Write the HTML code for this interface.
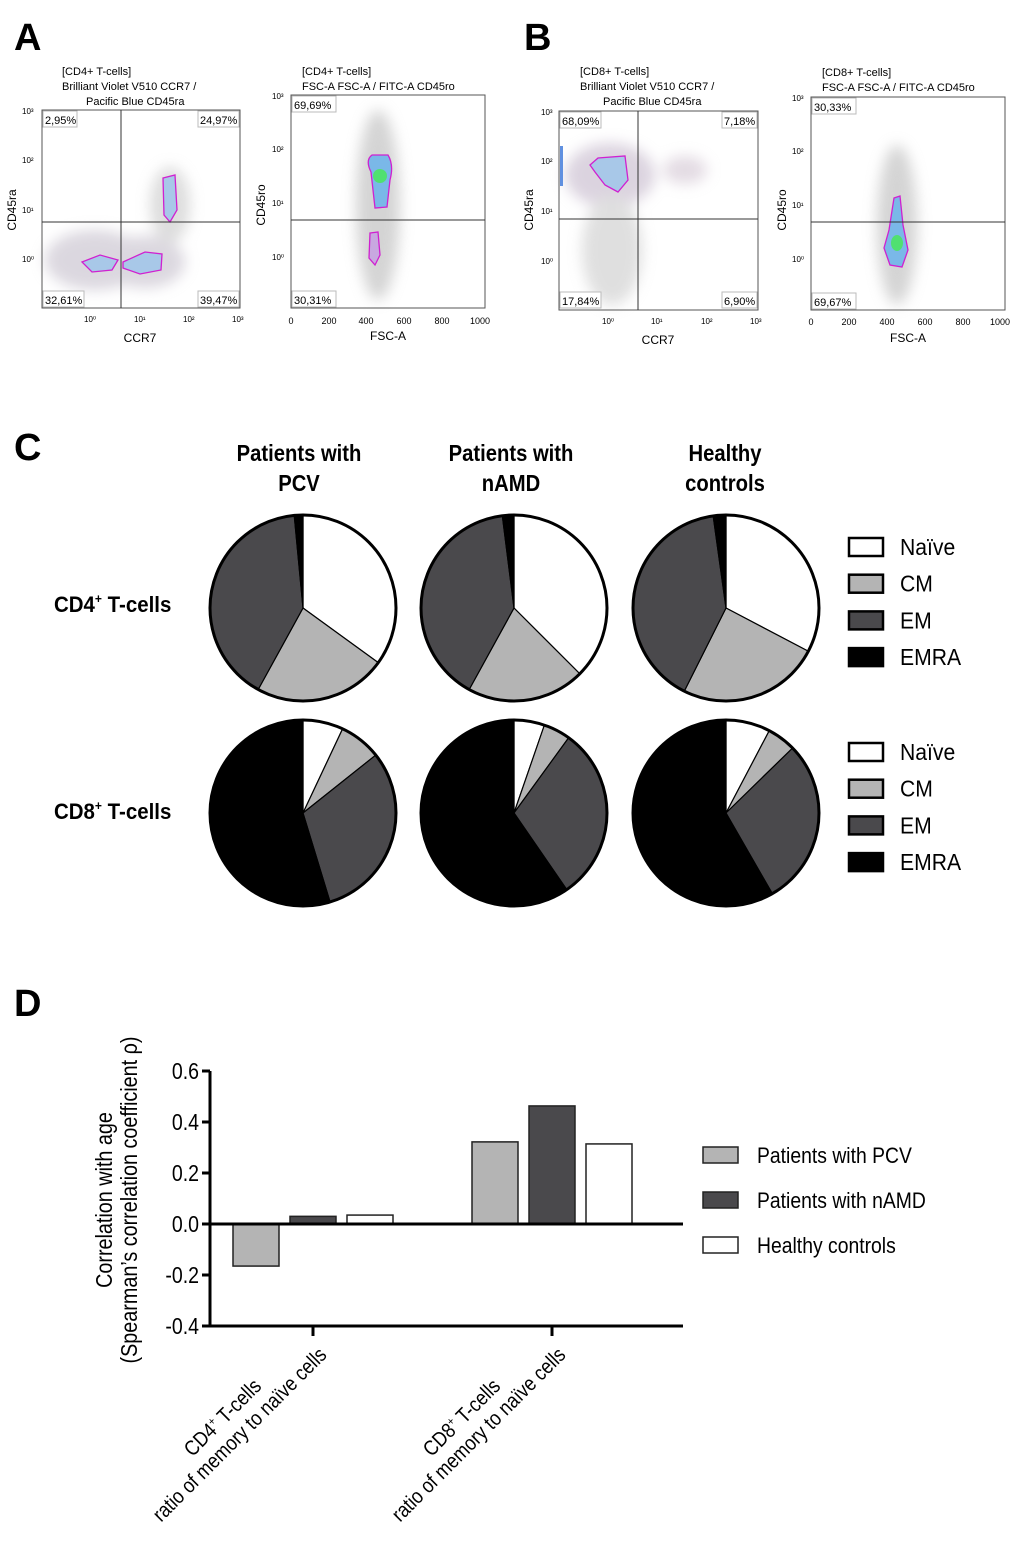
<!DOCTYPE html>
<html><head><meta charset="utf-8"><style>
html,body{margin:0;padding:0;background:#fff;}
svg{display:block;font-family:"Liberation Sans",sans-serif;}
</style></head><body>
<svg id="fig" width="1020" height="1568" viewBox="0 0 1020 1568" xmlns="http://www.w3.org/2000/svg">
<defs>
<filter id="bl" x="-50%" y="-50%" width="200%" height="200%"><feGaussianBlur stdDeviation="7"/></filter>
</defs>
<text x="14" y="50" font-size="38" font-weight="bold">A</text>
<text x="524" y="50" font-size="38" font-weight="bold">B</text>
<text x="14" y="460" font-size="38" font-weight="bold">C</text>
<text x="14" y="1016" font-size="38" font-weight="bold">D</text>

<!-- ===== Flow A1 ===== -->
<g font-size="11">
<text x="62" y="75">[CD4+ T-cells]</text>
<text x="62" y="90">Brilliant Violet V510 CCR7 /</text>
<text x="86" y="105">Pacific Blue CD45ra</text>
<g filter="url(#bl)" opacity="0.5">
<ellipse cx="95" cy="260" rx="50" ry="30" fill="#b8b0c0"/>
<ellipse cx="145" cy="262" rx="40" ry="26" fill="#b8b0c0"/>
<ellipse cx="170" cy="205" rx="20" ry="38" fill="#bbb"/>
</g>
<path d="M82 262 L100 255 L118 260 L112 270 L92 272 Z" fill="#a8c8e8" stroke="#d020d0" stroke-width="1.3"/>
<path d="M123 262 L145 252 L162 254 L161 270 L140 274 L123 268 Z" fill="#a8c8e8" stroke="#d020d0" stroke-width="1.3"/>
<path d="M163 178 L175 175 L177 210 L170 222 L164 215 Z" fill="#a8c8e8" stroke="#d020d0" stroke-width="1.3"/>
<rect x="42" y="110" width="198" height="198" fill="none" stroke="#555" stroke-width="1"/>
<line x1="121" y1="110" x2="121" y2="308" stroke="#333" stroke-width="1"/>
<line x1="42" y1="222" x2="240" y2="222" stroke="#333" stroke-width="1"/>
<rect x="43" y="111" width="34" height="16" fill="#fff" stroke="#bbb"/><text x="45" y="124">2,95%</text>
<rect x="198" y="111" width="41" height="16" fill="#fff" stroke="#bbb"/><text x="200" y="124">24,97%</text>
<rect x="43" y="291" width="41" height="16" fill="#fff" stroke="#bbb"/><text x="45" y="304">32,61%</text>
<rect x="198" y="291" width="41" height="16" fill="#fff" stroke="#bbb"/><text x="200" y="304">39,47%</text>
<g font-size="8"><text x="22" y="114">10³</text><text x="22" y="163">10²</text><text x="22" y="213">10¹</text><text x="22" y="262">10⁰</text>
<text x="84" y="322">10⁰</text><text x="134" y="322">10¹</text><text x="183" y="322">10²</text><text x="232" y="322">10³</text></g>
<text x="140" y="342" text-anchor="middle" font-size="12">CCR7</text>
<text transform="translate(16,210) rotate(-90)" text-anchor="middle" font-size="12">CD45ra</text>
</g>

<!-- ===== Flow A2 ===== -->
<g font-size="11">
<text x="302" y="75">[CD4+ T-cells]</text>
<text x="302" y="90">FSC-A FSC-A / FITC-A CD45ro</text>
<g filter="url(#bl)" opacity="0.6"><ellipse cx="378" cy="205" rx="22" ry="95" fill="#b8b8b8"/></g>
<path d="M371 172 Q365 160 372 155 L388 155 Q394 165 390 180 L387 207 L375 208 Z" fill="#7ab8e8" stroke="#d020d0" stroke-width="1.3"/>
<ellipse cx="380" cy="176" rx="7" ry="7" fill="#50e070"/>
<path d="M370 233 L378 232 L380 255 L375 265 L369 258 Z" fill="#c8a8e0" stroke="#d020d0" stroke-width="1.3"/>
<rect x="291" y="95" width="194" height="213" fill="none" stroke="#555"/>
<line x1="291" y1="220" x2="485" y2="220" stroke="#333"/>
<rect x="292" y="96" width="44" height="16" fill="#fff" stroke="#bbb"/><text x="294" y="109">69,69%</text>
<rect x="292" y="291" width="44" height="16" fill="#fff" stroke="#bbb"/><text x="294" y="304">30,31%</text>
<g font-size="8"><text x="272" y="99">10³</text><text x="272" y="152">10²</text><text x="272" y="206">10¹</text><text x="272" y="260">10⁰</text></g>
<g font-size="9" text-anchor="middle"><text x="291" y="324">0</text><text x="329" y="324">200</text><text x="366" y="324">400</text><text x="404" y="324">600</text><text x="442" y="324">800</text><text x="480" y="324">1000</text></g>
<text x="388" y="340" text-anchor="middle" font-size="12">FSC-A</text>
<text transform="translate(265,205) rotate(-90)" text-anchor="middle" font-size="12">CD45ro</text>
</g>

<!-- ===== Flow B1 ===== -->
<g font-size="11">
<text x="580" y="75">[CD8+ T-cells]</text>
<text x="580" y="90">Brilliant Violet V510 CCR7 /</text>
<text x="603" y="105">Pacific Blue CD45ra</text>
<g filter="url(#bl)" opacity="0.5"><ellipse cx="610" cy="175" rx="45" ry="32" fill="#b8a8c0"/><ellipse cx="612" cy="250" rx="30" ry="55" fill="#c0c0c0"/><ellipse cx="685" cy="170" rx="22" ry="14" fill="#c8b8c8"/></g>
<path d="M590 165 L598 158 L625 156 L628 180 L618 192 L605 185 L595 172 Z" fill="#a8c8e8" stroke="#d020d0" stroke-width="1.3"/>
<rect x="560" y="146" width="3" height="40" fill="#6090e0"/>
<rect x="559" y="111" width="199" height="199" fill="none" stroke="#555"/>
<line x1="638" y1="111" x2="638" y2="310" stroke="#333"/>
<line x1="559" y1="219" x2="758" y2="219" stroke="#333"/>
<rect x="560" y="112" width="41" height="16" fill="#fff" stroke="#bbb"/><text x="562" y="125">68,09%</text>
<rect x="722" y="112" width="35" height="16" fill="#fff" stroke="#bbb"/><text x="724" y="125">7,18%</text>
<rect x="560" y="292" width="41" height="16" fill="#fff" stroke="#bbb"/><text x="562" y="305">17,84%</text>
<rect x="722" y="292" width="35" height="16" fill="#fff" stroke="#bbb"/><text x="724" y="305">6,90%</text>
<g font-size="8"><text x="541" y="115">10³</text><text x="541" y="164">10²</text><text x="541" y="214">10¹</text><text x="541" y="264">10⁰</text>
<text x="602" y="324">10⁰</text><text x="651" y="324">10¹</text><text x="701" y="324">10²</text><text x="750" y="324">10³</text></g>
<text x="658" y="344" text-anchor="middle" font-size="12">CCR7</text>
<text transform="translate(533,210) rotate(-90)" text-anchor="middle" font-size="12">CD45ra</text>
</g>

<!-- ===== Flow B2 ===== -->
<g font-size="11">
<text x="822" y="76">[CD8+ T-cells]</text>
<text x="822" y="91">FSC-A FSC-A / FITC-A CD45ro</text>
<g filter="url(#bl)" opacity="0.6"><ellipse cx="897" cy="225" rx="20" ry="80" fill="#b8b8b8"/></g>
<path d="M894 198 L900 196 L903 225 L908 250 L902 267 L890 265 L884 248 L889 230 Z" fill="#7ab8e8" stroke="#d020d0" stroke-width="1.3"/>
<ellipse cx="897" cy="243" rx="6" ry="8" fill="#50e070"/>
<rect x="811" y="97" width="194" height="213" fill="none" stroke="#555"/>
<line x1="811" y1="222" x2="1005" y2="222" stroke="#333"/>
<rect x="812" y="98" width="44" height="16" fill="#fff" stroke="#bbb"/><text x="814" y="111">30,33%</text>
<rect x="812" y="293" width="44" height="16" fill="#fff" stroke="#bbb"/><text x="814" y="306">69,67%</text>
<g font-size="8"><text x="792" y="101">10³</text><text x="792" y="154">10²</text><text x="792" y="208">10¹</text><text x="792" y="262">10⁰</text></g>
<g font-size="9" text-anchor="middle"><text x="811" y="325">0</text><text x="849" y="325">200</text><text x="887" y="325">400</text><text x="925" y="325">600</text><text x="963" y="325">800</text><text x="1000" y="325">1000</text></g>
<text x="908" y="342" text-anchor="middle" font-size="12">FSC-A</text>
<text transform="translate(786,210) rotate(-90)" text-anchor="middle" font-size="12">CD45ro</text>
</g>

<!-- ===== Panel C headers ===== -->
<g font-size="23" font-weight="bold" text-anchor="middle">
<g transform="translate(299,461) scale(0.88,1)"><text x="0" y="0">Patients with<tspan x="0" dy="30">PCV</tspan></text></g>
<g transform="translate(511,461) scale(0.88,1)"><text x="0" y="0">Patients with<tspan x="0" dy="30">nAMD</tspan></text></g>
<g transform="translate(725,461) scale(0.88,1)"><text x="0" y="0">Healthy<tspan x="0" dy="30">controls</tspan></text></g>
</g>
<g font-size="22" font-weight="bold">
<g transform="translate(54,612) scale(0.93,1)"><text x="0" y="0">CD4<tspan font-size="13" dy="-9">+</tspan><tspan dy="9"> T-cells</tspan></text></g>
<g transform="translate(54,819) scale(0.93,1)"><text x="0" y="0">CD8<tspan font-size="13" dy="-9">+</tspan><tspan dy="9"> T-cells</tspan></text></g>
</g>
<g id="pies"></g>
<g id="pielegends"></g>
<g id="bars"></g>
</svg>
<script>
const NS="http://www.w3.org/2000/svg";
function mk(t,a,p){const e=document.createElementNS(NS,t);for(const k in a)e.setAttribute(k,a[k]);p.appendChild(e);return e;}
const SX=0.88;

// ---- Pie data (percent, clockwise from top): Naive, CM, EM, EMRA ----
const subsets=["Naïve","CM","EM","EMRA"];
const groups=["PCV","nAMD","Healthy controls"];
const cd4PCV=[35,23,40.5,1.5];
const cd4nAMD=[37.5,20.5,40,2];
const cd4HC=[32.7,24.7,40.4,2.2];
const cd8PCV=[7,7.3,31,54.7];
const cd8nAMD=[5.3,4.7,30.4,59.6];
const cd8HC=[7.7,5,29,58.3];
const pieFill=["#ffffff","#b4b4b4","#4a494c","#000000"];

const pieG=document.getElementById('pies');
const colX=[303,514,726], rowY=[608,813], R=93;
function drawPie(vals,cx,cy,name){
  const g=mk('g',{},pieG);
  
  
  const tot=vals.reduce((a,b)=>a+b,0);let a0=0;
  vals.forEach((v,i)=>{
    const a1=a0+v/tot*2*Math.PI;
    const x0=cx+R*Math.sin(a0),y0=cy-R*Math.cos(a0),x1=cx+R*Math.sin(a1),y1=cy-R*Math.cos(a1);
    const p=mk('path',{d:`M${cx} ${cy} L${x0} ${y0} A${R} ${R} 0 ${(a1-a0)>Math.PI?1:0} 1 ${x1} ${y1} Z`,fill:pieFill[i],stroke:'#000','stroke-width':1.2},g);
    
    
    a0=a1;
  });
  const c=mk('circle',{cx:cx,cy:cy,r:R,fill:'none',stroke:'#000','stroke-width':3},g);
  
  
}
[[cd4PCV,cd4nAMD,cd4HC],[cd8PCV,cd8nAMD,cd8HC]].forEach((row,r)=>row.forEach((v,c)=>drawPie(v,colX[c],rowY[r],(r?'cd8':'cd4')+'-pie-'+groups[c].toLowerCase().replace(' ','-'))));

const lg=document.getElementById('pielegends');
[547,752].forEach((y0,k)=>{
  const g=mk('g',{},lg);
  
  
  subsets.forEach((s,i)=>{
    const y=y0+i*36.7;
    const r=mk('rect',{x:849,y:y-9,width:34,height:18,fill:pieFill[i],stroke:'#000','stroke-width':2.5},g);
    
    
    const t=mk('text',{transform:`translate(900,${y+8}) scale(0.92,1)`,'font-size':23},g);
    t.textContent=s;
    
    
  });
});

// ---- Bar chart data ----
const barCategories=["CD4","CD8"];
const seriesNames=["Patients with PCV","Patients with nAMD","Healthy controls"];
const pcvVals=[-0.165,0.322];
const namdVals=[0.03,0.463];
const hcVals=[0.035,0.314];
const yTicks=[0.6,0.4,0.2,0.0,-0.2,-0.4];
const yTickLabels=["0.6","0.4","0.2","0.0","-0.2","-0.4"];
const barFill=["#b4b4b4","#4a494c","#ffffff"];

const bg=document.getElementById('bars');
const ax0=210,ax1=683,yTop=1071,yBot=1326,vMax=0.6,vMin=-0.4;
const Y=v=>yTop+(vMax-v)/(vMax-vMin)*(yBot-yTop);
const catX=[313,552]; const bw=46, off=[-80,-23,34];
[pcvVals,namdVals,hcVals].forEach((vals,s)=>vals.forEach((v,c)=>{
  const x=catX[c]+off[s];const y0=Y(0),y1=Y(v);
  const r=mk('rect',{x:x,y:Math.min(y0,y1),width:bw,height:Math.abs(y1-y0),fill:barFill[s],stroke:'#222','stroke-width':1.5},bg);
  
  
}));
const yl=mk('line',{x1:ax0,y1:yTop,x2:ax0,y2:yBot+1,stroke:'#000','stroke-width':3},bg);


const xl=mk('line',{x1:ax0-1,y1:yBot,x2:ax1,y2:yBot,stroke:'#000','stroke-width':3},bg);


const zl=mk('line',{x1:ax0,y1:Y(0),x2:ax1,y2:Y(0),stroke:'#000','stroke-width':3},bg);


yTicks.forEach((t,i)=>{
  mk('line',{x1:ax0-8,y1:Y(t),x2:ax0,y2:Y(t),stroke:'#000','stroke-width':3},bg);
  const tx=mk('text',{transform:`translate(${ax0-11},${Y(t)+8}) scale(0.85,1)`,'text-anchor':'end','font-size':23},bg);
  tx.textContent=yTickLabels[i];
  
  
});
const xLab=[["CD4","ratio of memory to naïve cells"],["CD8","ratio of memory to naïve cells"]];
catX.forEach((x,i)=>{
  mk('line',{x1:x,y1:yBot,x2:x,y2:yBot+10,stroke:'#000','stroke-width':3},bg);
  const t=mk('text',{transform:`translate(${x-82},${yBot+100}) rotate(-45) scale(0.86,1)`,'text-anchor':'middle','font-size':21},bg);
  
  
  t.innerHTML=`<tspan x="0" dy="-5">${xLab[i][0]}<tspan font-size="12" dy="-8">+</tspan><tspan dy="8"> T-cells</tspan></tspan><tspan x="0" dy="24">${xLab[i][1]}</tspan>`;
});
const yt=mk('text',{transform:`translate(112,1200) rotate(-90) scale(0.86,1)`,'text-anchor':'middle','font-size':23},bg);


yt.innerHTML='<tspan x="0" dy="0">Correlation with age</tspan><tspan x="0" dy="25">(Spearman’s correlation coefficient ρ)</tspan>';
seriesNames.forEach((s,i)=>{
  const y=1155+i*45;
  const r=mk('rect',{x:703,y:y-8,width:35,height:16,fill:barFill[i],stroke:'#222','stroke-width':1.5},bg);
  
  
  const t=mk('text',{transform:`translate(757,${y+8}) scale(${SX},1)`,'font-size':22},bg);
  t.textContent=s;
  
  
});
</script>
</body></html>
